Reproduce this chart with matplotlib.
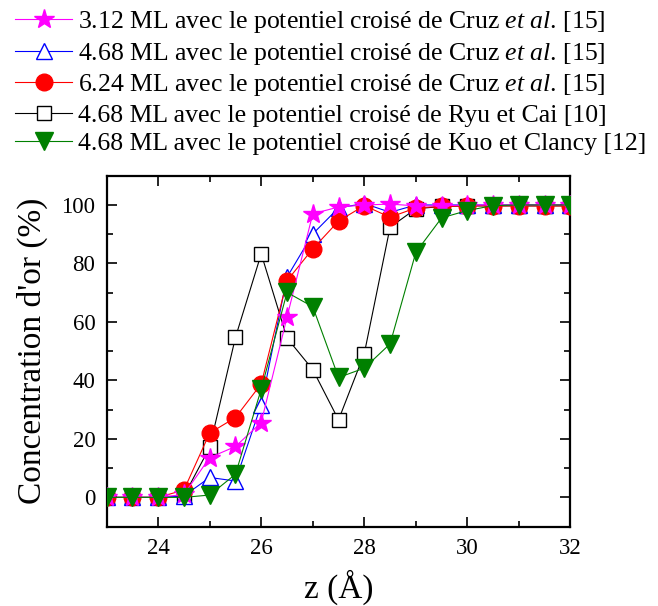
import matplotlib
matplotlib.use("Agg")
import matplotlib.pyplot as plt
from matplotlib.ticker import MultipleLocator

plt.rcParams['font.family'] = ['Liberation Serif', 'DejaVu Serif']
plt.rcParams['mathtext.fontset'] = 'custom'
plt.rcParams['mathtext.rm'] = 'Liberation Serif'
plt.rcParams['mathtext.it'] = 'Liberation Serif:italic'

z = [23, 23.5, 24, 24.5, 25, 25.5, 26, 26.5, 27, 27.5, 28, 28.5, 29, 29.5,
     30, 30.5, 31, 31.5, 32]

cruz_312 = [0, 0, 0, 1, 13.6, 17.4, 25.6, 61.6, 97, 99.3, 100, 100.3, 99.7, 99.7,
            100, 100, 100, 100, 100]
cruz_468 = [0, 0, 0, 0.5, 6.8, 5.6, 31.7, 75.3, 90.1, 99, 100.5, 97.5, 100, 100,
            100, 100, 100, 100, 100]
cruz_624 = [0, 0, 0, 2.5, 22, 27.3, 38.8, 74.1, 85, 94.5, 99.8, 95.8, 99, 99.5,
            99.7, 99.7, 99.7, 99.7, 99.7]
ryu_468 = [0, 0, 0, 0.5, 17.1, 54.7, 83.3, 54.5, 43.7, 26.5, 49.2, 92.4, 98.7, 99.5,
           99.7, 99.7, 99.7, 99.7, 99.7]
kuo_468 = [0, 0, 0, 0, 0.8, 7.9, 37, 70.1, 65.2, 41, 44.2, 52.5, 83.8, 95.6,
           98.1, 99.8, 100, 100, 100]

labels = [
    "3.12 ML avec le potentiel croisé de Cruz $\\it{et\\ al}$. [15]",
    "4.68 ML avec le potentiel croisé de Cruz $\\it{et\\ al}$. [15]",
    "6.24 ML avec le potentiel croisé de Cruz $\\it{et\\ al}$. [15]",
    "4.68 ML avec le potentiel croisé de Ryu et Cai [10]",
    "4.68 ML avec le potentiel croisé de Kuo et Clancy [12]",
]

fig = plt.figure(figsize=(6.58, 6.06), dpi=100)
ax = fig.add_axes([0.162, 0.131, 0.705, 0.579])

lw = 0.8
h_ryu, = ax.plot(z, ryu_468, color='black', lw=lw, marker='s', ms=9.5,
                 mfc='white', mec='black', mew=1.0, zorder=3)
h_468, = ax.plot(z, cruz_468, color='blue', lw=lw, marker='^', ms=12,
                 mfc='white', mec='blue', mew=1.0, zorder=4)
h_624, = ax.plot(z, cruz_624, color='red', lw=lw, marker='o', ms=12,
                 mfc='red', mec='red', zorder=5)
h_312, = ax.plot(z, cruz_312, color='magenta', lw=lw, marker='*', ms=15,
                 mfc='magenta', mec='magenta', zorder=6)
h_kuo, = ax.plot(z, kuo_468, color='green', lw=lw, marker='v', ms=13,
                 mfc='green', mec='green', zorder=7)

ax.set_xlim(23, 32)
ax.set_ylim(-10, 110)
ax.xaxis.set_major_locator(MultipleLocator(2))
ax.xaxis.set_minor_locator(MultipleLocator(1))
ax.yaxis.set_major_locator(MultipleLocator(20))
ax.yaxis.set_minor_locator(MultipleLocator(10))
ax.tick_params(which='both', direction='in', top=True, right=True,
               labelsize=16.5, width=1.2)
ax.tick_params(which='major', length=7, pad=8)
ax.tick_params(which='minor', length=4)
for s in ax.spines.values():
    s.set_linewidth(1.6)

ax.set_xlabel("z (Å)", fontsize=24, labelpad=8)
ax.set_ylabel("Concentration d'or (%)", fontsize=24, labelpad=10)

fig.legend([h_312, h_468, h_624, h_ryu, h_kuo], labels,
           loc='upper left', bbox_to_anchor=(0.0, 1.01), frameon=False,
           fontsize=18.5, handlelength=2.2, handletextpad=0.25,
           labelspacing=0.21, borderaxespad=0.2)

fig.savefig("out.png", dpi=100)
